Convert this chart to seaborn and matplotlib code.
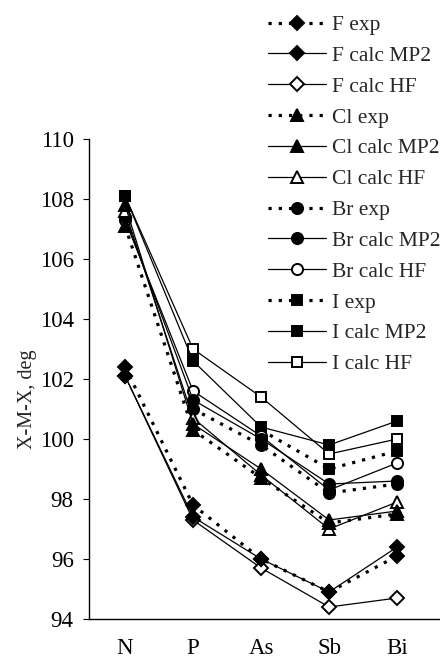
import numpy as np
import pandas as pd
import matplotlib
matplotlib.use("Agg")
import matplotlib.pyplot as plt
import seaborn as sns

categories = ["N", "P", "As", "Sb", "Bi"]
yticks = [94, 96, 98, 100, 102, 104, 106, 108, 110]

F_exp = [102.4, 97.8, 96.0, 94.9, 96.1]
F_mp2 = [102.1, 97.4, 96.0, 94.9, 96.4]
F_hf = [102.1, 97.3, 95.7, 94.4, 94.7]
Cl_exp = [107.1, 100.3, 98.7, 97.2, 97.5]
Cl_mp2 = [107.8, 100.5, 99.0, 97.3, 97.6]
Cl_hf = [107.6, 100.7, 98.8, 97.0, 97.9]
Br_exp = [np.nan, 101.0, 99.8, 98.2, 98.5]
Br_mp2 = [107.4, 101.3, 100.0, 98.5, 98.6]
Br_hf = [107.3, 101.6, 100.1, 98.3, 99.2]
I_exp = [np.nan, np.nan, 100.3, 99.0, 99.6]
I_mp2 = [108.1, 102.6, 100.4, 99.8, 100.6]
I_hf = [108.1, 103.0, 101.4, 99.5, 100.0]

labels = ["F exp", "F calc MP2", "F calc HF",
          "Cl exp", "Cl calc MP2", "Cl calc HF",
          "Br exp", "Br calc MP2", "Br calc HF",
          "I exp", "I calc MP2", "I calc HF"]
series = [F_exp, F_mp2, F_hf, Cl_exp, Cl_mp2, Cl_hf,
          Br_exp, Br_mp2, Br_hf, I_exp, I_mp2, I_hf]
markers = {"F": "D", "Cl": "^", "Br": "o", "I": "s"}
msizes = {"F": 7, "Cl": 8, "Br": 8, "I": 7.5}

sns.set_style("white")
plt.rcParams["font.family"] = ["Liberation Serif", "DejaVu Serif"]

fig = plt.figure(figsize=(4.4, 6.61), dpi=100)
ax = fig.add_axes([89 / 440, 42 / 661, 351 / 440, 480 / 661])

pos = np.arange(len(categories))
for label, vals in reversed(list(zip(labels, series))):
    elem = label.split()[0]
    df = pd.DataFrame({"pos": pos, "value": vals}).dropna()
    dotted = label.endswith("exp")
    hollow = label.endswith("HF")
    sns.lineplot(data=df, x="pos", y="value", ax=ax, color="black",
                 marker=markers[elem], markersize=msizes[elem],
                 markerfacecolor="white" if hollow else "black",
                 markeredgecolor="black", markeredgewidth=1.4,
                 linestyle=(0, (1, 2.2)) if dotted else "-",
                 linewidth=2.3 if dotted else 0.9,
                 label=label, legend=False)

ax.set_xlim(-0.53, 4.63)
ax.set_ylim(94, 110)
ax.set_yticks(yticks)
ax.set_xticks(pos)
ax.set_xticklabels(categories)
ax.set_xlabel("")
ax.set_ylabel("X-M-X, deg", fontsize=14.5)
ax.yaxis.set_label_coords(-0.148, 0.458)
for s in ["top", "right"]:
    ax.spines[s].set_visible(False)
for s in ["left", "bottom"]:
    ax.spines[s].set_color("black")
    ax.spines[s].set_linewidth(1.0)
ax.tick_params(axis="x", length=0, pad=14, labelsize=16.5, colors="black")
ax.tick_params(axis="y", length=4, width=0.8, direction="out", pad=7,
               labelsize=16.5, colors="black", left=True)

h, l = ax.get_legend_handles_labels()
order = {lab: i for i, lab in enumerate(labels)}
pairs = sorted(zip(h, l), key=lambda p: order.get(p[1], 99))
pairs = [p for p in pairs if p[1] in order]
fig.legend([p[0] for p in pairs], [p[1] for p in pairs],
           loc="upper left", bbox_to_anchor=(268 / 440, 1 - 15 / 661),
           frameon=False, fontsize=15.5, handlelength=2.7,
           handletextpad=0.25, labelspacing=0.5, borderpad=0,
           borderaxespad=0)

fig.savefig("out.png", dpi=100)
